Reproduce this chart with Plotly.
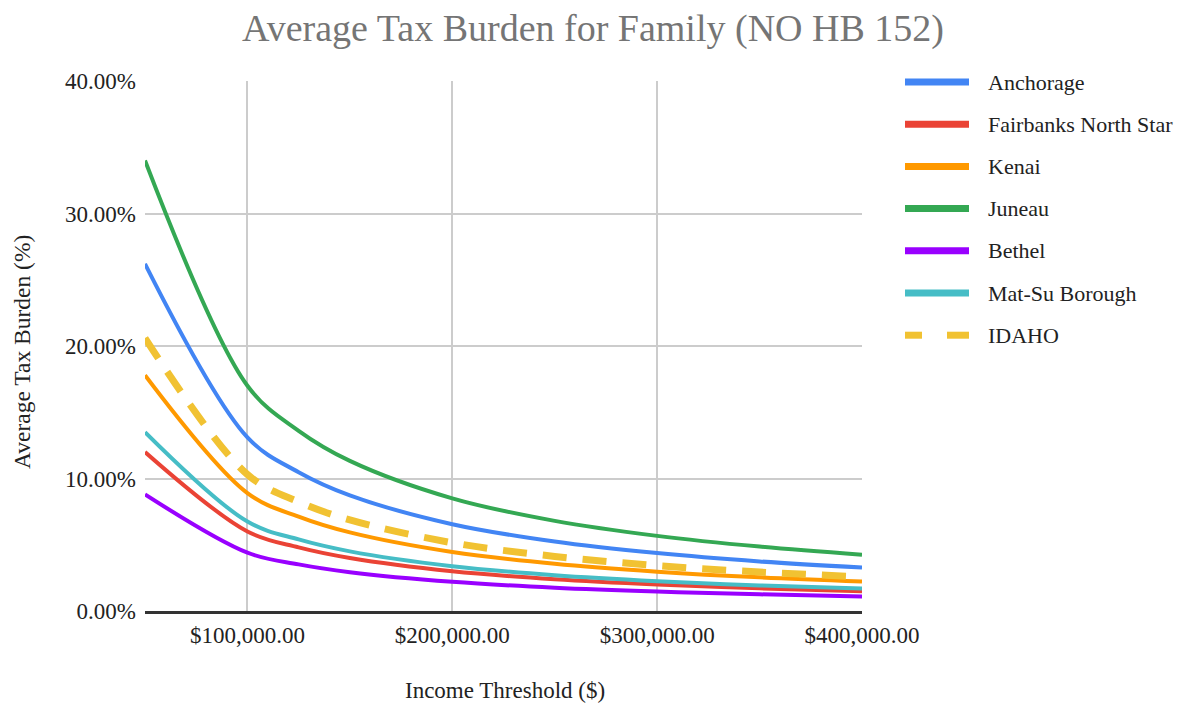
import plotly.graph_objects as go

# Income thresholds (USD) and average tax burden (fraction of income) per area
income = [50000, 100000, 125000, 150000, 200000, 250000, 300000, 350000, 400000]

anchorage = [0.2620, 0.1310, 0.1048, 0.0873, 0.0655, 0.0524, 0.0437, 0.0374, 0.0328]
fairbanks = [0.1200, 0.0600, 0.0480, 0.0400, 0.0300, 0.0240, 0.0200, 0.0171, 0.0150]
kenai = [0.1780, 0.0890, 0.0712, 0.0593, 0.0445, 0.0356, 0.0297, 0.0254, 0.0223]
juneau = [0.3400, 0.1700, 0.1360, 0.1133, 0.0850, 0.0680, 0.0567, 0.0486, 0.0425]
bethel = [0.0880, 0.0440, 0.0352, 0.0293, 0.0220, 0.0176, 0.0147, 0.0126, 0.0110]
matsu = [0.1350, 0.0675, 0.0540, 0.0450, 0.0338, 0.0270, 0.0225, 0.0193, 0.0169]
idaho = [0.2060, 0.1030, 0.0824, 0.0687, 0.0515, 0.0412, 0.0343, 0.0294, 0.0258]

names = ["Anchorage", "Fairbanks North Star", "Kenai", "Juneau", "Bethel",
         "Mat-Su Borough", "IDAHO"]
series = [anchorage, fairbanks, kenai, juneau, bethel, matsu, idaho]
colors = ["#4285F4", "#EA4335", "#FF9900", "#34A853", "#9900FF", "#46BDC6", "#F1C232"]

x_ticks = [100000, 200000, 300000, 400000]
y_ticks = [0, 0.1, 0.2, 0.3, 0.4]

FONT = "Liberation Serif"
TEXT = "#222222"

# Plot-area geometry in pixels (used to place legend and titles in paper space)
W, H = 1183, 704
L, R, T, B = 145, 321, 81, 93
PW, PH = W - L - R, H - T - B


def px_x(x):
    return (x - L) / PW


def px_y(y):
    return (H - B - y) / PH


fig = go.Figure()
for name, vals, col in zip(names, series, colors):
    dashed = name == "IDAHO"
    fig.add_trace(go.Scatter(
        x=income, y=vals, name=name, mode="lines",
        line=dict(color=col, width=7 if dashed else 4, shape="spline",
                  smoothing=1.0, dash="24px,16px" if dashed else "solid"),
        showlegend=False,
    ))

# Legend at the right of the plot: a line swatch and a label per series
legend_top = 82
legend_step = 42.2
for i, (name, col) in enumerate(zip(names, colors)):
    yy = px_y(legend_top + i * legend_step)
    segs = [(905, 922), (947, 969)] if name == "IDAHO" else [(905, 969)]
    for x0, x1 in segs:
        fig.add_shape(type="line", xref="paper", yref="paper",
                      x0=px_x(x0), x1=px_x(x1), y0=yy, y1=yy,
                      line=dict(color=col, width=7))
    fig.add_annotation(text=name, xref="paper", yref="paper",
                       x=px_x(986), y=yy, xanchor="left", yanchor="middle",
                       showarrow=False, font=dict(family=FONT, size=22, color=TEXT))

# Axis titles
fig.add_annotation(text="Income Threshold ($)", xref="paper", yref="paper",
                   x=px_x(505), y=px_y(690), xanchor="center", yanchor="middle",
                   showarrow=False, font=dict(family=FONT, size=23, color=TEXT))
fig.add_annotation(text="Average Tax Burden (%)", xref="paper", yref="paper",
                   x=px_x(22), y=px_y(352), xanchor="center", yanchor="middle",
                   textangle=-90, showarrow=False,
                   font=dict(family=FONT, size=23.5, color=TEXT))

fig.update_layout(
    width=W, height=H,
    margin=dict(l=L, r=R, t=T, b=B, autoexpand=False),
    paper_bgcolor="white", plot_bgcolor="white",
    title=dict(text="Average Tax Burden for Family (NO HB 152)",
               xref="container", x=593 / W, xanchor="center",
               yref="container", y=1 - 28 / H, yanchor="middle",
               font=dict(family=FONT, size=38, color="#757575")),
    font=dict(family=FONT, size=23, color=TEXT),
)
fig.update_xaxes(
    range=[50000, 400000], tickvals=x_ticks, tickformat="$,.2f",
    showgrid=True, gridcolor="#CCCCCC", gridwidth=1.5,
    showline=True, linecolor="#333333", linewidth=2.5,
    zeroline=False, ticks="", ticklabelstandoff=2, automargin=False,
    tickfont=dict(family=FONT, size=23, color=TEXT),
)
fig.update_yaxes(
    range=[0, 0.4], tickvals=y_ticks, tickformat=".2%",
    showgrid=True, gridcolor="#CCCCCC", gridwidth=1.5,
    zeroline=False, showline=False, ticks="", ticklabelstandoff=8,
    automargin=False,
    tickfont=dict(family=FONT, size=23, color=TEXT),
)

fig.write_html("out.html")
